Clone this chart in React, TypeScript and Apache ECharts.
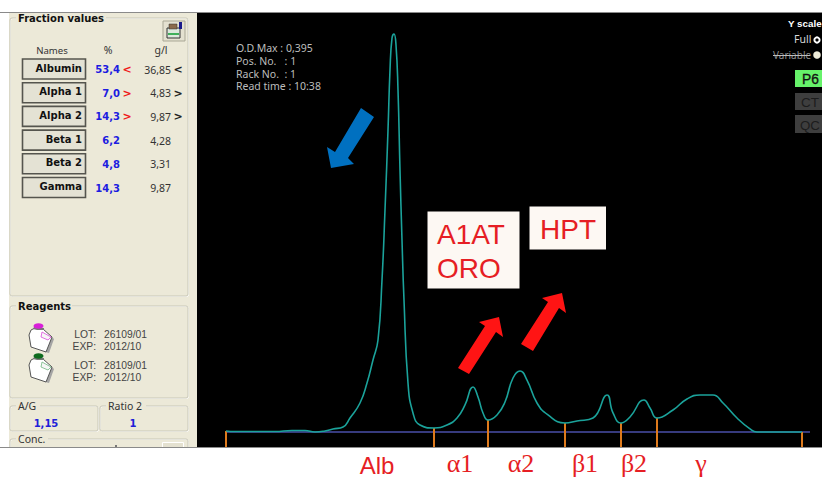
import React, { useEffect, useRef } from "react";
import * as echarts from "echarts";

const fractionNames = ["Albumin", "Alpha 1", "Alpha 2", "Beta 1", "Beta 2", "Gamma"];
const percentValues = ["53,4", "7,0", "14,3", "6,2", "4,8", "14,3"];
const percentFlags = ["<", ">", ">", "", "", ""];
const gramValues = ["36,85", "4,83", "9,87", "4,28", "3,31", "9,87"];
const gramFlags = ["<", ">", ">", "", "", ""];
const readoutLines = ["O.D.Max : 0,395", "Pos. No.   : 1", "Rack No.  : 1", "Read time : 10:38"];
const reagentLines = ["LOT:", "26109/01", "EXP:", "2012/10", "LOT:", "28109/01", "EXP:", "2012/10"];
const fractionLabels = ["Alb", "\u03B11", "\u03B12", "\u03B21", "\u03B22", "\u03B3"];

// migration position, optical density x 1000
const curvePositions = [226, 235, 275, 292, 305, 315, 325, 333, 343, 350, 360, 367, 373, 378, 382, 385, 388, 390, 392, 394, 396, 398, 400, 402, 404, 408, 413, 420, 434, 447, 457, 465, 473, 478, 483, 488, 497, 505, 513, 520, 527, 537, 548, 565, 577, 593, 607, 613, 621, 630, 644, 650, 657, 673, 687, 700, 713, 723, 737, 750, 757, 802];
const curveDensity = [1, 0.5, 0.5, 1.5, 1.5, 0, 1, 3, 5, 13.9, 28.8, 48.6, 71.5, 91.3, 150.9, 220.3, 299.7, 359.3, 391, 395, 384.1, 339.4, 260, 190.6, 131, 48.6, 18.9, 6.9, 4, 6.9, 13.9, 26.8, 44.7, 34.7, 18.9, 11.9, 16.9, 29.8, 53.6, 60.5, 51.6, 28.8, 16.9, 8.9, 10.9, 13.9, 36.7, 18.9, 8.9, 14.9, 31.8, 23.8, 13.9, 21.8, 32.8, 36.7, 36.7, 28.8, 13.9, 3, 0, 0];
const boundaryPositions = [226, 434, 488, 565, 621, 657, 802];
const boundaryDensity = [1, 4, 11.9, 8.9, 8.9, 13.9, 0];
const baselineEnds = [226, 810];

const BEIGE = "#ECE9D8";
const TAHOMA = "'Noto Sans', 'Liberation Sans', sans-serif";
const BOLD = "'DejaVu Sans', sans-serif";
const RED = "#E61E24";

const txt = (text: string, x: number, y: number, font: string, fill: string, textAlign = "left", extra: any = {}) => ({
  type: "text",
  silent: true,
  style: { text, x, y, font, fill, textAlign, textVerticalAlign: "middle", ...extra },
});
const rect = (x: number, y: number, width: number, height: number, fill: string, stroke?: string, lineWidth = 1, r = 0) => ({
  type: "rect",
  silent: true,
  shape: { x, y, width, height, r },
  style: { fill, stroke, lineWidth },
});
const poly = (points: number[][], fill: string, stroke?: string, lineWidth = 1) => ({
  type: "polygon",
  silent: true,
  shape: { points },
  style: { fill, stroke, lineWidth },
});
const groupBox = (x: number, y: number, w: number, h: number, title: string, font: string, titleW: number) => [
  rect(x + 0.5, y + 0.5, w, h, "transparent", "#FFFFFF", 1, 2),
  rect(x, y, w, h, "transparent", "#C9C7B6", 1, 2),
  rect(x + 6, y - 6, titleW, 12, BEIGE),
  txt(title, x + 8, y, font, title === "A/G" || title === "Ratio 2" || title === "Conc." ? "#333333" : "#111111"),
];
const shift = (ox: number, oy: number, pts: number[][]) => pts.map(([a, b]) => [ox + a, oy + b]);
const bottle = (ox: number, oy: number, cap: string, tag: string) => [
  poly(shift(ox, oy, [[16, 29], [20, 30], [25, 16], [23, 14]]), "#A4A4A4"),
  poly(shift(ox, oy, [[2, 7], [6, 5], [14, 6], [23, 14], [17, 29], [2, 24], [0, 12]]), "#FFFFFF", "#555555", 1),
  poly(shift(ox, oy, [[13, 9], [22, 14], [19, 17], [12, 14]]), "#F6F6F6", tag, 0.9),
  poly(shift(ox, oy, [[4, 6], [8, 7], [15, 7], [15, 5], [5, 4]]), "#777777"),
  { type: "ellipse", silent: true, shape: { cx: ox + 9.5, cy: oy + 3, rx: 5, ry: 2.8 }, style: { fill: cap } },
];

export default function App() {
  const ref = useRef<HTMLDivElement>(null);
  useEffect(() => {
    const chart = echarts.init(ref.current!, undefined, { renderer: "svg" });
    const rowY = (i: number) => 68.5 + i * 23.7;

    const panel: any[] = [
      rect(9, 12, 188, 435, BEIGE),
      ...groupBox(10, 18, 178, 278, "Fraction values", `bold 10px ${BOLD}`, 90),
      ...groupBox(10, 306, 178, 92, "Reagents", `bold 10px ${BOLD}`, 56),
      ...groupBox(10, 406, 88, 25, "A/G", `10.5px ${TAHOMA}`, 24),
      ...groupBox(100, 406, 88, 25, "Ratio 2", `10.5px ${TAHOMA}`, 40),
      ...groupBox(10, 439, 178, 14, "Conc.", `10.5px ${TAHOMA}`, 32),
      rect(162.5, 442.5, 21, 8, "#E4E1D0", "#FFFFFF"),
      rect(115, 445, 2, 2, "#777777"),
      rect(0, 447, 197, 30, "#FFFFFF"),
      rect(163, 21, 22, 20, "#E4E1D0", "#A9A795"),
      rect(167, 28, 13, 10, "#DCE8DC", "#333333"),
      rect(169, 24, 8, 5, "#8A6A4A", "#333333", 0.5),
      rect(179, 22, 3, 7, "#1A1A8A"),
      rect(168, 33, 11, 2, "#3FB05A"),
      txt("Names", 52, 50, `9.6px ${TAHOMA}`, "#333333", "center"),
      txt("%", 108, 50, `10.5px ${TAHOMA}`, "#333333", "center"),
      txt("g/l", 161, 50, `10.5px ${TAHOMA}`, "#333333", "center"),
      txt("1,15", 46, 423, `bold 10px ${BOLD}`, "#2020D8", "center"),
      txt("1", 133, 423, `bold 10px ${BOLD}`, "#2020D8", "center"),
      ...bottle(29, 323, "#D81FD8", "#E060E0"),
      ...bottle(29, 353, "#0E6B1E", "#80C090"),
    ];
    fractionNames.forEach((name, i) => {
      const y = rowY(i);
      panel.push(
        rect(22.5, y - 9.5, 63, 20, "#E4E2D4", "#55554E", 1.6),
        txt(name, 82, y - 0.5, `bold 10px ${BOLD}`, "#111111", "right"),
        txt(percentValues[i], 120, y + 1, `bold 10px ${BOLD}`, "#1C1CE0", "right"),
        txt(percentFlags[i], 127, y + 1, `bold 11px ${BOLD}`, "#F01818", "center"),
        txt(gramValues[i], 171, y + 1, `10.5px ${TAHOMA}`, "#333333", "right"),
        txt(gramFlags[i], 178, y + 1, `bold 11px ${BOLD}`, "#222222", "center"),
      );
    });
    [334, 346, 365, 377].forEach((y, i) => {
      panel.push(
        txt(reagentLines[i * 2], 96, y, `10.3px 'Liberation Sans'`, "#444444", "right"),
        txt(reagentLines[i * 2 + 1], 104, y, `10.3px 'Liberation Sans'`, "#444444"),
      );
    });

    const overlay: any[] = [
      rect(0, 12, 822, 1, "#8A8A8A"),
      rect(0, 447, 822, 1, "#8A8A8A"),
      ...readoutLines.map((l, i) => txt(l, 236, 48 + i * 12.8, `10.5px ${TAHOMA}`, "#BDBDBD")),
      txt("Y scale", 788, 23, `bold 9.8px 'Liberation Sans'`, "#FFFFFF"),
      txt("Full", 794, 39, `10.5px ${TAHOMA}`, "#D8D8D8"),
      { type: "circle", silent: true, shape: { cx: 817, cy: 40, r: 2.6 }, style: { fill: "#000000", stroke: "#FFFFFF", lineWidth: 2 } },
      txt("Variable", 773, 55, `10px ${TAHOMA}`, "#8C8C8C"),
      rect(773, 55, 37, 1, "#BDBDBD"),
      { type: "circle", silent: true, shape: { cx: 817, cy: 55, r: 3.8 }, style: { fill: "#F0ECD8" } },
      rect(795, 70, 27, 17, "#66F26A"),
      txt("P6", 802, 79, `13.8px 'Liberation Sans'`, "#111111", "left", { stroke: "#111111", lineWidth: 0.3 }),
      rect(795, 93, 27, 17, "#3E3E3E"),
      txt("CT", 801, 102, `13.5px 'Liberation Sans'`, "#1C1C1C"),
      rect(795, 115, 27, 18, "#3E3E3E"),
      txt("QC", 800, 125, `13.3px 'Liberation Sans'`, "#1C1C1C"),
      rect(427.5, 211.5, 92, 77, "#FDF8F3"),
      txt("A1AT", 437, 234, `28px 'Liberation Sans'`, RED),
      txt("ORO", 437, 268, `28px 'Liberation Sans'`, RED),
      rect(529.5, 206.5, 76.5, 43, "#FDF8F3"),
      txt("HPT", 540, 229, `28px 'Liberation Sans'`, RED),
      poly([[361, 108], [374, 117], [348, 158], [354, 164], [331, 168], [327, 147], [335, 152]], "#0070C0"),
      poly([[458, 368], [469, 374], [496, 332], [503, 337], [499, 317], [479, 322], [485, 326]], "#FF1414"),
      poly([[521, 344], [533, 351], [559, 308], [566, 313], [562, 293], [542, 298], [548, 302]], "#FF1414"),
      ...fractionLabels.map((l, i) => {
        const x = [377, 460, 521, 585, 634, 701][i];
        return i === 0
          ? txt(l, x, 465, `24px 'Liberation Sans'`, RED, "center")
          : txt(l, x, 463, `26px 'Liberation Serif'`, RED, "center");
      }),
    ];

    chart.setOption({
      animation: false,
      backgroundColor: "#FFFFFF",
      grid: { left: 197, top: 13, width: 625, height: 434, show: true, backgroundColor: "#000000", borderWidth: 0 },
      xAxis: { type: "value", min: 197, max: 822, show: false },
      yAxis: { type: "value", min: -14.9, max: 415.9, show: false },
      series: [
        {
          type: "line",
          data: baselineEnds.map((x) => [x, 0]),
          symbol: "none",
          lineStyle: { color: "#4A4FA8", width: 1.4 },
          z: 2,
        },
        ...boundaryPositions.map((x, i) => ({
          type: "line",
          data: [[x, -14.9], [x, boundaryDensity[i]]],
          symbol: "none",
          lineStyle: { color: "#DE7A1C", width: 2 },
          z: 3,
        })),
        {
          type: "line",
          data: curvePositions.map((x, i) => [x, curveDensity[i]]),
          symbol: "none",
          smooth: 0.5,
          lineStyle: { color: "#1BA39B", width: 1.6 },
          z: 4,
        },
      ],
      graphic: [
        { type: "group", z: 1, children: panel },
        { type: "group", z: 10, children: overlay },
      ],
    });
    return () => chart.dispose();
  }, []);
  return <div ref={ref} style={{ position: "fixed", left: 0, top: 0, width: 822, height: 477 }} />;
}
